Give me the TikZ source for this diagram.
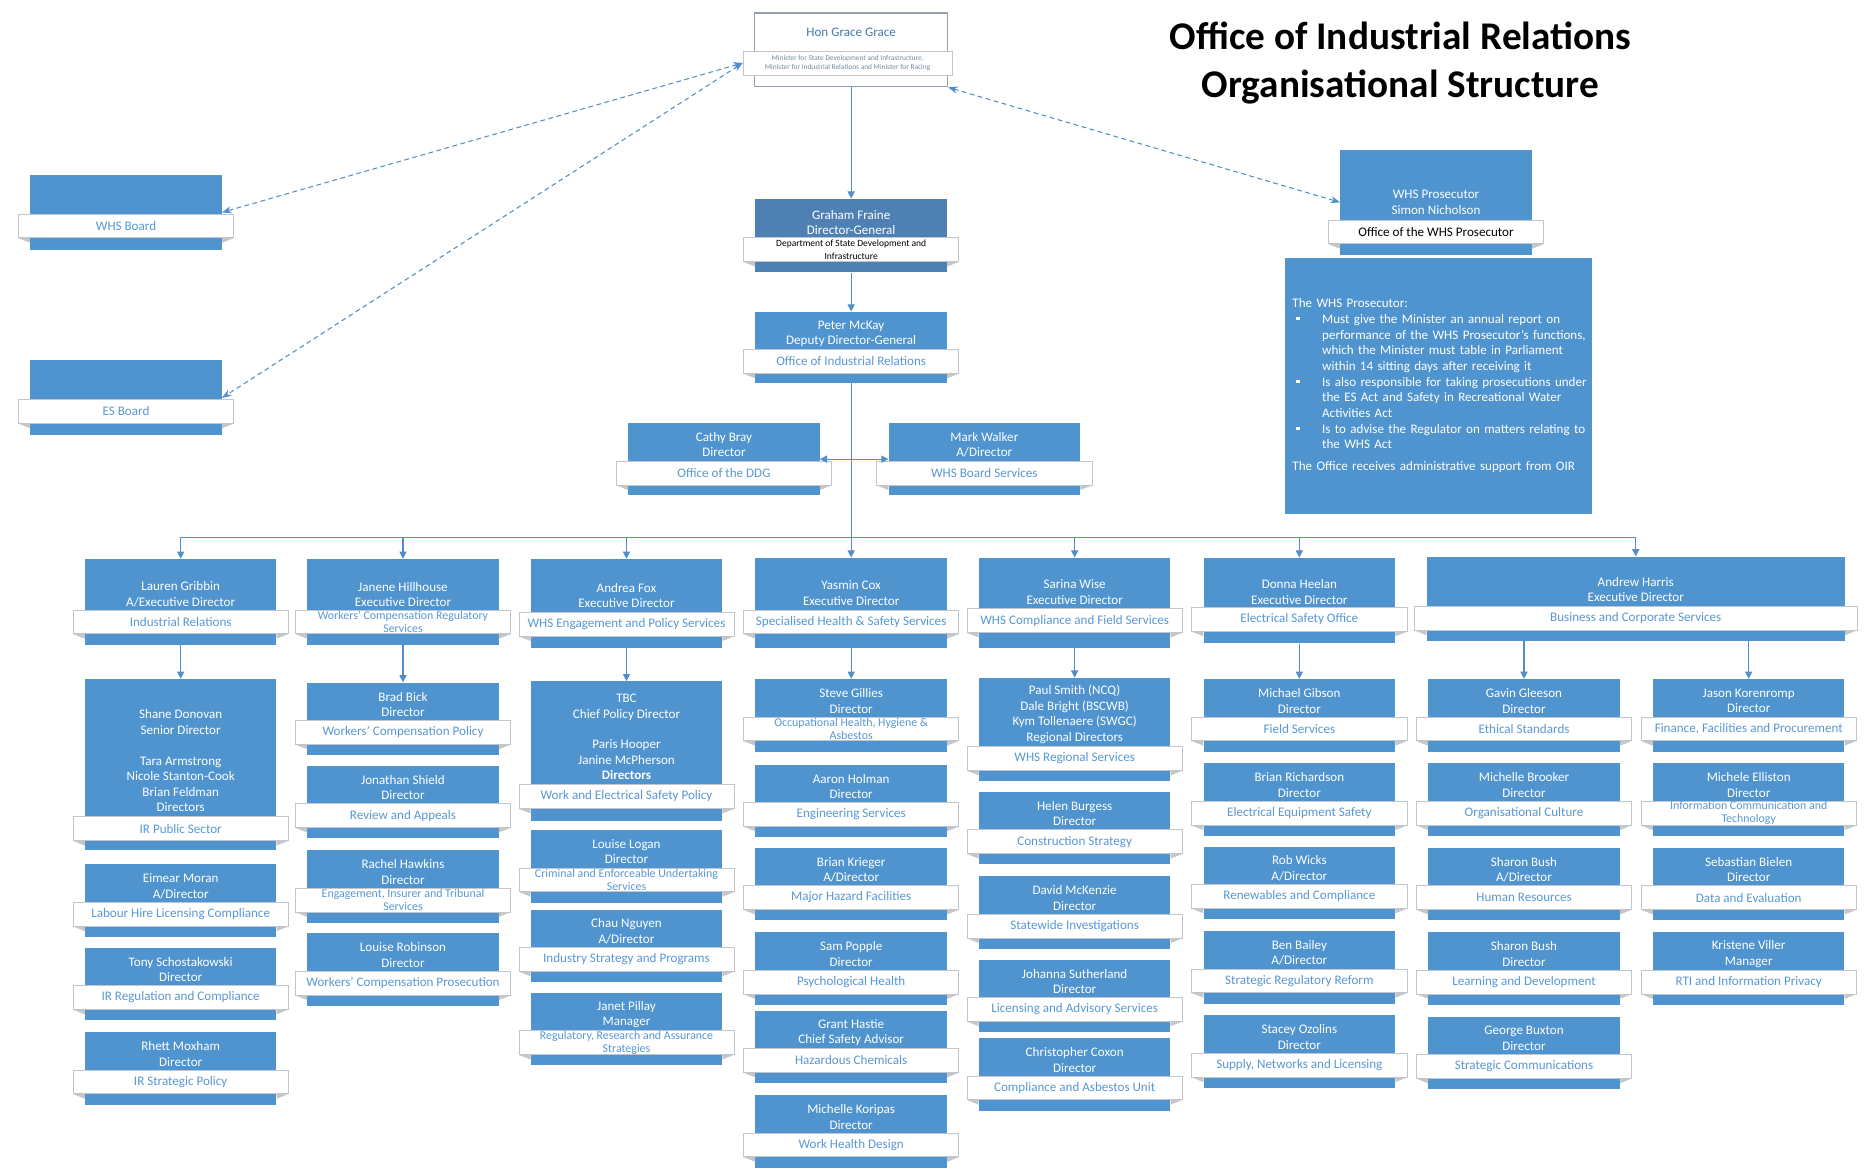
\documentclass[tikz,border=0pt]{standalone}
\usepackage{fontspec}
\setmainfont{Carlito}
\usetikzlibrary{positioning, arrows.meta}
\definecolor{orgblue}{RGB}{79, 148, 206}
\definecolor{dgblue}{RGB}{78, 128, 180}
\definecolor{unitblue}{RGB}{88, 152, 212}
\definecolor{linkblue}{RGB}{82, 142, 202}
\definecolor{edgegray}{RGB}{150, 160, 172}

% one unit: blue box, people text, white banner with the unit name
\newcommand\orgunit[9][]{%
  \node[bluebox, minimum height={#5-#4}, anchor=north] (#2) at (#3,#4) {};
  \node[nametext] (#2-n) at (#3,#7) {#8};
  \node[banner, #1] (#2-b) at (#3,#6) {#9};
  \fill[fold] (#2-b.south west) -- (#2-b.south west -| #2.west) -- ++(0,4) -- cycle;
  \fill[fold] (#2-b.south east) -- (#2-b.south east -| #2.east) -- ++(0,4) -- cycle;
}
\newcommand\stdunit[6][]{\orgunit[#1]{#2}{#3}{#4}{#4+61}{#4+42}{#4+18.5}{#5}{#6}}
\newcommand\sqb{\hspace{3pt}\rule[2.5pt]{3pt}{3pt}}

\begin{document}
\begin{tikzpicture}[x=1pt, y=-1pt,
    bluebox/.style={fill=orgblue, minimum width=161, inner sep=0},
    nametext/.style={text=white, align=center, inner sep=0,
        font=\fontsize{11}{13}\selectfont},
    banner/.style={fill=white, draw=edgegray!60, line width=0.5pt,
        minimum width=181, minimum height=20, inner sep=0, align=center,
        text=unitblue, font=\fontsize{11}{12}\selectfont},
    twoline/.style={font=\fontsize{10}{11}\selectfont},
    fold/.style={fill=gray!45},
    minbox/.style={fill=white, draw=edgegray, line width=1pt,
        minimum width=162, minimum height=62},
    descbox/.style={fill=orgblue, text=white, minimum width=258,
        minimum height=215, inner xsep=6, text width=246, align=left,
        font=\fontsize{11}{13.2}\selectfont},
    conn/.style={draw=linkblue, line width=0.9pt,
        -{Triangle[length=6pt, width=6pt]}},
    twoway/.style={draw=linkblue, line width=0.9pt,
        {Triangle[length=6pt, width=6pt]}-{Triangle[length=6pt, width=6pt]}},
    dashlink/.style={draw=linkblue, line width=0.9pt, dash pattern=on 4pt off 3pt,
        {Stealth[length=8pt]}-{Stealth[length=8pt]}},
    busline/.style={draw=linkblue, line width=0.9pt}
]
\useasboundingbox (0,0) rectangle (1568,983);

\node[font=\fontsize{33}{41}\selectfont\bfseries, align=center] (title) at (1178,53)
    {Office of Industrial Relations\\Organisational Structure};

% minister
\node[minbox] (min) at (716,42) {};
\node[font=\fontsize{11}{13}\selectfont, text=unitblue!80!black] (min-n) at (716,27) {Hon Grace Grace};
\node[banner, minimum width=176, text=gray!60!unitblue, font=\fontsize{6.2}{7}\selectfont] (min-b) at (713,53)
    {Minister for State Development and Infrastructure,\\Minister for Industrial Relations and Minister for Racing};

% boards and prosecutor
\orgunit{wb}{106}{147}{210}{190}{165}{}{WHS Board}
\orgunit{esb}{106}{303}{366}{346}{320}{}{ES Board}
\orgunit[text=black]{wp}{1208}{126}{214}{195}{170}{WHS Prosecutor\\Simon Nicholson}{Office of the WHS Prosecutor}
\node[descbox, anchor=north west] (wpd) at (1081,217) {%
  \begin{tabular}{@{}p{25pt}@{}l@{}}
  \multicolumn{2}{@{}l@{}}{The WHS Prosecutor:}\\
  \sqb & Must give the Minister an annual report on\\
       & performance of the WHS Prosecutor’s functions,\\
       & which the Minister must table in Parliament\\
       & within 14 sitting days after receiving it\\
  \sqb & Is also responsible for taking prosecutions under\\
       & the ES Act and Safety in Recreational Water\\
       & Activities Act\\
  \sqb & Is to advise the Regulator on matters relating to\\
       & the WHS Act\\[5pt]
  \multicolumn{2}{@{}l@{}}{The Office receives administrative support from OIR}
  \end{tabular}};

% DG, DDG
\begin{scope}[bluebox/.append style={fill=dgblue}]
\orgunit[text=black, font=\fontsize{8}{10.5}\selectfont]{gf}{716}{167}{229}{210}{187}{Graham Fraine\\Director-General}{Department of State Development and\\Infrastructure}
\end{scope}
\orgunit{pm}{716}{262}{322}{304}{281}{Peter McKay\\Deputy Director-General}{Office of Industrial Relations}
\orgunit{cb}{609}{356}{416}{398}{374}{Cathy Bray\\Director}{Office of the DDG}
\orgunit{mw}{828}{356}{416}{398}{374}{Mark Walker\\A/Director}{WHS Board Services}

% executive directors
\orgunit{lg}{152}{470}{542}{523}{500}{Lauren Gribbin\\A/Executive Director}{Industrial Relations}
\orgunit[twoline]{jh}{339}{470}{542}{523}{500}{Janene Hillhouse\\Executive Director}{Workers' Compensation Regulatory\\Services}
\orgunit{af}{527}{470}{545}{525}{501}{Andrea Fox\\Executive Director}{WHS Engagement and Policy Services}
\orgunit{yc}{716}{469}{545}{523}{499}{Yasmin Cox\\Executive Director}{Specialised Health \& Safety Services}
\orgunit{sw}{904}{469}{545}{522}{498}{Sarina Wise\\Executive Director}{WHS Compliance and Field Services}
\orgunit{dh}{1093}{469}{541}{521}{498}{Donna Heelan\\Executive Director}{Electrical Safety Office}
\begin{scope}[bluebox/.append style={minimum width=352}, banner/.append style={minimum width=372}]
\orgunit{ah}{1376}{468}{539}{520}{496}{Andrew Harris\\Executive Director}{Business and Corporate Services}
\end{scope}

% Industrial Relations
\orgunit{sd}{152}{571}{715}{697}{640}{Shane Donovan\\Senior Director\\[13pt]Tara Armstrong\\Nicole Stanton-Cook\\Brian Feldman\\Directors}{IR Public Sector}
\stdunit{em}{152}{727}{Eimear Moran\\A/Director}{Labour Hire Licensing Compliance}
\stdunit{ts}{152}{797}{Tony Schostakowski\\Director}{IR Regulation and Compliance}
\stdunit{rm}{152}{868}{Rhett Moxham\\Director}{IR Strategic Policy}

% Workers' Compensation Regulatory Services
\stdunit{bb}{339}{574}{Brad Bick\\Director}{Workers' Compensation Policy}
\stdunit{js}{339}{644}{Jonathan Shield\\Director}{Review and Appeals}
\stdunit[twoline]{rh}{339}{715}{Rachel Hawkins\\Director}{Engagement, Insurer and Tribunal\\Services}
\stdunit{lr}{339}{785}{Louise Robinson\\Director}{Workers' Compensation Prosecution}

% WHS Engagement and Policy Services
\orgunit{tbc}{527}{573}{690}{670}{620}{TBC\\Chief Policy Director\\[13pt]Paris Hooper\\Janine McPherson\\\textbf{Directors}}{Work and Electrical Safety Policy}
\stdunit[twoline]{ll}{527}{698}{Louise Logan\\Director}{Criminal and Enforceable Undertaking\\Services}
\stdunit{cn}{527}{765}{Chau Nguyen\\A/Director}{Industry Strategy and Programs}
\stdunit[twoline]{jp}{527}{835}{Janet Pillay\\Manager}{Regulatory, Research and Assurance\\Strategies}

% Specialised Health & Safety Services
\stdunit[twoline]{sg}{716}{571}{Steve Gillies\\Director}{Occupational Health, Hygiene \&\\Asbestos}
\stdunit{aho}{716}{643}{Aaron Holman\\Director}{Engineering Services}
\stdunit{bk}{716}{713}{Brian Krieger\\A/Director}{Major Hazard Facilities}
\stdunit{spo}{716}{784}{Sam Popple\\Director}{Psychological Health}
\stdunit{gh}{716}{850}{Grant Hastie\\Chief Safety Advisor}{Hazardous Chemicals}
\stdunit{mk}{716}{921}{Michelle Koripas\\Director}{Work Health Design}

% WHS Compliance and Field Services
\orgunit{ps}{904}{570}{657}{638}{601}{Paul Smith (NCQ)\\Dale Bright (BSCWB)\\Kym Tollenaere (SWGC)\\Regional Directors}{WHS Regional Services}
\stdunit{hb}{904}{666}{Helen Burgess\\Director}{Construction Strategy}
\stdunit{dm}{904}{737}{David McKenzie\\Director}{Statewide Investigations}
\stdunit{jsu}{904}{807}{Johanna Sutherland\\Director}{Licensing and Advisory Services}
\stdunit{cc}{904}{873}{Christopher Coxon\\Director}{Compliance and Asbestos Unit}

% Electrical Safety Office
\stdunit{mg}{1093}{571}{Michael Gibson\\Director}{Field Services}
\stdunit{br}{1093}{642}{Brian Richardson\\Director}{Electrical Equipment Safety}
\stdunit{rw}{1093}{712}{Rob Wicks\\A/Director}{Renewables and Compliance}
\stdunit{bba}{1093}{783}{Ben Bailey\\A/Director}{Strategic Regulatory Reform}
\stdunit{so}{1093}{854}{Stacey Ozolins\\Director}{Supply, Networks and Licensing}

% Business and Corporate Services
\stdunit{gg}{1282}{571}{Gavin Gleeson\\Director}{Ethical Standards}
\stdunit{mb}{1282}{642}{Michelle Brooker\\Director}{Organisational Culture}
\stdunit{sba}{1282}{713}{Sharon Bush\\A/Director}{Human Resources}
\stdunit{sbd}{1282}{784}{Sharon Bush\\Director}{Learning and Development}
\stdunit{gbx}{1282}{855}{George Buxton\\Director}{Strategic Communications}
\stdunit{jk}{1471}{571}{Jason Korenromp\\Director}{Finance, Facilities and Procurement}
\stdunit[twoline]{me}{1471}{642}{Michele Elliston\\Director}{Information Communication and\\Technology}
\stdunit{sbi}{1471}{713}{Sebastian Bielen\\Director}{Data and Evaluation}
\stdunit{kv}{1471}{784}{Kristene Viller\\Manager}{RTI and Information Privacy}

% connectors
\draw[conn] (min) -- (gf);
\draw[conn] (gf) -- (pm);
\draw[conn] (pm) -- (yc);
\draw[twoway] (cb) -- (mw);
\draw[dashlink] (min-b.west) -- (wb.east);
\draw[dashlink] (min-b.west) -- (esb.east);
\draw[dashlink] (min.south east) -- (wp.west);

\coordinate (hub) at (716,452);
\draw[busline] (hub -| lg.north) -- (hub -| ah.north);
\foreach \e in {lg,jh,af,sw,dh,ah}
    \draw[conn] (hub -| \e.north) -- (\e.north);

\draw[conn] (lg) -- (sd);
\draw[conn] (jh) -- (bb);
\draw[conn] (af) -- (tbc);
\draw[conn] (yc) -- (sg);
\draw[conn] (sw) -- (ps);
\draw[conn] (dh) -- (mg);
\draw[conn] (ah.south -| gg.north) -- (gg.north);
\draw[conn] (ah.south -| jk.north) -- (jk.north);

\end{tikzpicture}
\end{document}
